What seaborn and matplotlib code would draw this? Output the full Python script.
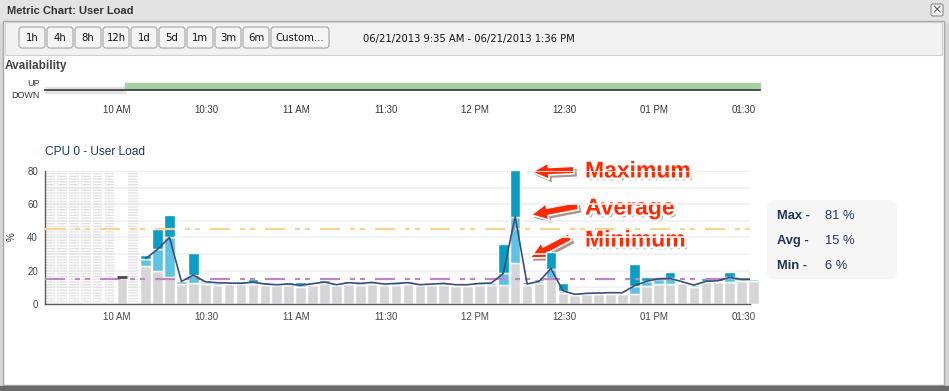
import numpy as np
import pandas as pd
import matplotlib
matplotlib.use("Agg")
import matplotlib.pyplot as plt
import matplotlib.patheffects as pe
from matplotlib.patches import Rectangle, FancyBboxPatch
import seaborn as sns

nan = np.nan

# 60 buckets of ~4 min between 9:35 AM and 1:36 PM (CPU 0 user load, %)
load_min = [nan, nan, nan, nan, nan, nan, 15.8, nan,
            22.9, 19.9, 16.4, 12.0, 12.8, 12.0, 11.4, 12.0, 11.8, 12.0,
            11.4, 11.2, 11.6, 10.2, 11.6, 12.4, 11.2, 12.0, 11.6, 12.0,
            11.2, 11.6, 12.0, 11.2, 11.2, 11.2, 10.8, 10.8, 11.2, 11.2,
            11.2, 24.5, 11.6, 12.4, 15.4, 6.4, 5.6, 6.0, 6.0, 6.0,
            6.0, 6.0, 10.8, 12.0, 12.0, 12.4, 10.4, 13.2, 13.2, 13.2,
            13.6, 14.0]
load_avg = [nan, nan, nan, nan, nan, nan, 16.4, nan,
            27.3, 32.9, 40.0, 13.6, 17.4, 13.4, 12.8, 12.6, 12.4, 13.2,
            12.0, 11.6, 12.0, 11.2, 12.2, 13.2, 11.6, 12.8, 12.4, 13.0,
            12.0, 12.4, 12.8, 11.6, 12.0, 12.4, 11.6, 11.6, 12.4, 12.6,
            18.4, 52.5, 12.0, 13.6, 21.3, 8.0, 5.8, 6.4, 6.6, 6.8,
            6.8, 11.0, 13.6, 15.2, 15.4, 13.4, 11.4, 13.6, 14.0, 16.0,
            14.8, 14.8]
load_max = [nan, nan, nan, nan, nan, nan, 16.4, nan,
            29.5, 45.1, 53.5, 14.4, 30.7, 14.4, 14.0, 13.4, 13.6, 15.2,
            13.2, 12.4, 13.2, 13.2, 13.2, 14.4, 12.4, 13.6, 13.2, 13.6,
            12.8, 13.0, 13.6, 12.4, 12.8, 13.2, 12.4, 12.4, 13.2, 13.2,
            36.1, 80.6, 13.2, 15.0, 31.3, 12.8, 6.2, 6.8, 7.0, 7.0,
            7.2, 24.0, 16.0, 16.0, 19.2, 14.0, 12.4, 15.6, 15.6, 19.2,
            16.0, 15.6]
baseline_high = 45.2   # orange dash-dot
baseline_avg = 15.3    # purple dash-dot

time_labels = ["10 AM", "10:30", "11 AM", "11:30", "12 PM", "12:30", "01 PM", "01:30"]

# availability (minutes from window start)
avail_state = ["down", "up"]
avail_from = [0.0, 26.8]
avail_to = [26.8, 239.6]

stat_names = ["Max -", "Avg -", "Min -"]
stat_values = ["81 %", "15 %", "6 %"]
buttons = ["1h", "4h", "8h", "12h", "1d", "5d", "1m", "3m", "6m", "Custom..."]

# ---- geometry -----------------------------------------------------------
W, H = 949, 391
PPM = 2.984                 # pixels per minute
T10 = 24.2                  # 10 AM, minutes from left edge
BUCKET = 11.92 / PPM
BAR_W = 10.6 / PPM

sns.set_style("white")
plt.rcParams["font.family"] = ["Liberation Sans", "DejaVu Sans"]
plt.rcParams["lines.scale_dashes"] = False

fig = plt.figure(figsize=(W / 100, H / 100), dpi=100)
fig.patch.set_facecolor("#d6d6d6")


def px_axes(x0, y0, x1, y1):
    return fig.add_axes([x0 / W, 1 - y1 / H, (x1 - x0) / W, (y1 - y0) / H])


# window chrome
bg = px_axes(0, 0, W, H)
bg.set_xlim(0, W)
bg.set_ylim(H, 0)
bg.axis("off")
bg.add_patch(Rectangle((0, 0), W, 22, color="#e3e3e3"))
bg.add_patch(Rectangle((3, 21), 941, 364, facecolor="white", edgecolor="#a8a8a8", lw=1))
bg.add_patch(Rectangle((5, 22), 937, 33, facecolor="#f2f2f2", edgecolor="#cfcfcf", lw=0.8))
bg.add_patch(Rectangle((0, 386), W, 5, color="#6a6a6a"))
bg.text(7, 11, "Metric Chart: User Load", fontsize=8, fontweight="bold", color="#333333", va="center")
bg.add_patch(FancyBboxPatch((931, 4), 12, 12, boxstyle="round,pad=0,rounding_size=2",
                            facecolor="#f4f4f4", edgecolor="#8a8a8a", lw=0.8))
bg.text(937, 10, "×", fontsize=9, ha="center", va="center", color="#555555", family="DejaVu Sans")

for k, lab in enumerate(buttons):
    bx = 19 + 28 * k
    bw = 58 if lab.startswith("Custom") else 26
    bg.add_patch(FancyBboxPatch((bx, 27), bw, 21, boxstyle="round,pad=0,rounding_size=3",
                                facecolor="#f5f5f5", edgecolor="#a5a5a5", lw=0.8))
    bg.text(bx + bw / 2, 38, lab, fontsize=7.3, ha="center", va="center", family="DejaVu Sans", color="#111111")
bg.text(363, 39, "06/21/2013 9:35 AM - 06/21/2013 1:36 PM", fontsize=7.2, va="center",
        family="DejaVu Sans", color="#111111")

bg.text(5, 66, "Availability", fontsize=8.5, fontweight="bold", color="#444444", va="center")
bg.text(40, 83, "UP", fontsize=6.5, ha="right", va="center", color="#333333")
bg.text(40, 96, "DOWN", fontsize=6.5, ha="right", va="center", color="#333333")
bg.text(45, 152, "CPU 0 - User Load", fontsize=8.6, color="#1b3a63", va="center")
bg.text(12, 237, "%", fontsize=7, rotation=90, ha="center", va="center", color="#333333")

major_ticks = [T10 + 30 * k for k in range(len(time_labels))]

# ---- availability strip ---------------------------------------------------
av = px_axes(45, 80, 760, 90)
av.set_facecolor("none")
av.set_xlim(0, 715 / PPM)
av.set_ylim(90, 80)
for st, a, b in zip(avail_state, avail_from, avail_to):
    if st == "up":
        av.broken_barh([(a, b - a)], (83.3, 5.7), color="#a7cfa4", clip_on=False)
    else:
        av.broken_barh([(a, b - a)], (86.7, 6.0), color="#e2e2e2", clip_on=False, zorder=0)
for s in ["left", "right", "top"]:
    av.spines[s].set_visible(False)
av.spines["bottom"].set_color("#333333")
av.spines["bottom"].set_linewidth(1.2)
av.set_yticks([])
av.set_xticks(major_ticks)
av.set_xticklabels(time_labels)
av.tick_params(axis="x", length=8.6, width=1, color="#111111", direction="out",
               labelsize=7, labelcolor="#333333", pad=2.5)

# ---- main chart -------------------------------------------------------------
ax = px_axes(45, 171, 750, 304)
ax.set_facecolor("none")
ax.set_xlim(0, 705 / PPM)
ax.set_ylim(0, 80)

df = pd.DataFrame({"start": np.arange(60) * BUCKET, "lo": load_min, "avg": load_avg, "hi": load_max})
df["mid"] = df["start"] + BAR_W / 2
nodata = df["lo"].isna()

ax.bar(df["start"], df["lo"].fillna(0), width=BAR_W, align="edge", color="#d6d6d8", clip_on=False, zorder=2)
ax.bar(df["start"], (df["avg"] - df["lo"]).fillna(0), bottom=df["lo"].fillna(0), width=BAR_W,
       align="edge", color="#5dc3e5", clip_on=False, zorder=2)
ax.bar(df["start"], (df["hi"] - df["avg"]).fillna(0), bottom=df["avg"].fillna(0), width=BAR_W,
       align="edge", color="#079dc5", clip_on=False, zorder=2)
ax.bar(df.loc[nodata, "start"], 80, width=BAR_W * 0.92, align="edge", color="none",
       edgecolor="#e2e2e2", hatch="------", lw=0, zorder=1)

# average line, broken where data is missing
df["seg"] = nodata.cumsum()
seg_data = df[~nodata]
sns.lineplot(data=seg_data, x="mid", y="avg", units="seg", estimator=None, color="#3c4d7c",
             lw=1.2, ax=ax, zorder=4, legend=False)
counts = seg_data["seg"].value_counts()
lonely = seg_data[seg_data["seg"].isin(counts[counts == 1].index)]
ax.plot(lonely["mid"], lonely["avg"], ls="none", marker="_", ms=7.6, mew=2.2, color="#555555", zorder=4)

dash = (0, (14.4, 7.2, 3.6, 3.6, 3.6, 7.2))
ax.axhline(baseline_high, color="#f9d390", lw=1.6, ls=dash, zorder=3)
ax.axhline(baseline_avg, color="#bf86c6", lw=1.6, ls=dash, zorder=3)

ax.set_yticks(range(0, 81, 20))
ax.set_yticks(range(10, 80, 20), minor=True)
ax.set_xticks(major_ticks)
ax.set_xticklabels(time_labels)
ax.set_xticks(np.arange(T10 - 20, 705 / PPM, 5), minor=True)
ax.grid(axis="y", which="both", color="#f0f0f0", lw=1.2)
ax.set_axisbelow(True)
for s in ["right", "top"]:
    ax.spines[s].set_visible(False)
for s in ["left", "bottom"]:
    ax.spines[s].set_color("#5a5a5a")
    ax.spines[s].set_linewidth(1)
ax.tick_params(which="both", color="#5a5a5a", width=0.8, labelsize=7, labelcolor="#444444")
ax.tick_params(axis="x", which="major", length=4, pad=2)
ax.tick_params(axis="x", which="minor", length=3)
ax.tick_params(axis="y", which="both", length=3, pad=2)
ax.set_xlabel("")
ax.set_ylabel("")

# ---- stats box -------------------------------------------------------------
bg.add_patch(FancyBboxPatch((767, 200), 130, 79, boxstyle="round,pad=0,rounding_size=6",
                            facecolor="#f6f6f6", edgecolor="none"))
for k, (nm, val) in enumerate(zip(stat_names, stat_values)):
    y = 216 + 25 * k
    bg.text(777, y, nm, fontsize=9.3, fontweight="bold", color="#1c355c", va="center")
    bg.text(825, y, val, fontsize=9.3, color="#1c355c", va="center")

# ---- red call-outs ---------------------------------------------------------
red = "#ff2a00"
txt_fx = [pe.SimplePatchShadow(offset=(2, -2), shadow_rgbFace="#666666", alpha=0.5),
          pe.Stroke(linewidth=3.5, foreground="white"), pe.Normal()]
callouts = [("Maximum", 585, 171, (574, 170), (532, 172)),
            ("Average", 585, 208, (578, 206), (531, 215)),
            ("Minimum", 585, 240, (570, 237), (530, 258))]
for lab, tx, ty, tail, tip in callouts:
    bg.text(tx, ty, lab, fontsize=16.5, fontweight="bold", color=red, va="center", path_effects=txt_fx)
    bg.annotate("", xy=tip, xytext=tail,
                arrowprops=dict(arrowstyle="simple,head_length=1.0,head_width=1.0,tail_width=0.45",
                                mutation_scale=12, fc=red, ec="white", lw=1.2,
                                shrinkA=0, shrinkB=0,
                                path_effects=[pe.SimplePatchShadow(offset=(2, -2), alpha=0.45),
                                              pe.Normal()]))

fig.savefig("out.png", dpi=100, facecolor=fig.get_facecolor())
